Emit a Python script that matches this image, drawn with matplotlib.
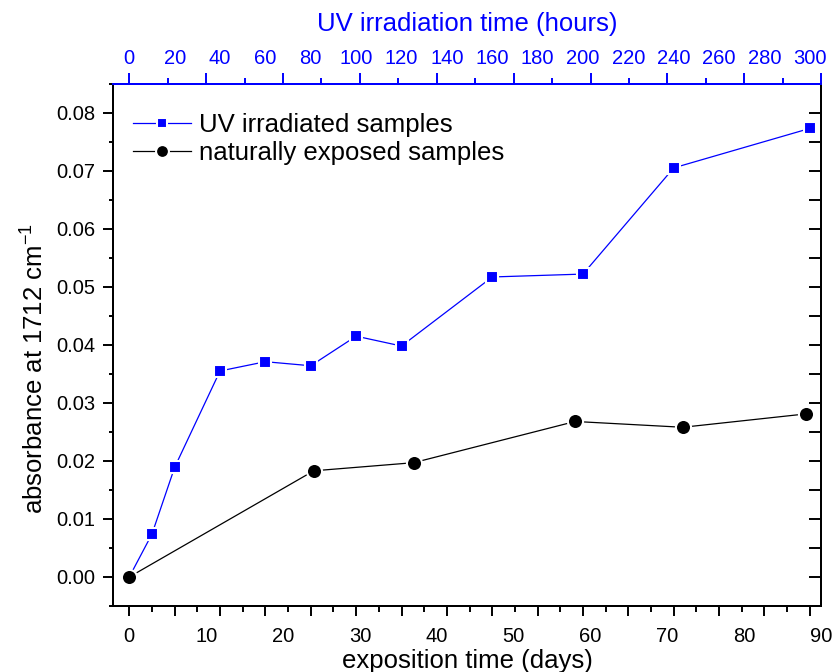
import matplotlib
matplotlib.use("Agg")
import matplotlib.pyplot as plt
from matplotlib.ticker import MultipleLocator

plt.rcParams['font.family'] = ['Liberation Sans', 'DejaVu Sans']
plt.rcParams['mathtext.fontset'] = 'custom'
plt.rcParams['mathtext.rm'] = 'Liberation Sans'

# UV irradiated samples (top axis, hours)
uv_hours = [0, 10, 20, 40, 60, 80, 100, 120, 160, 200, 240, 300]
uv_abs = [0.0, 0.0074, 0.0189, 0.0355, 0.0371, 0.0364, 0.0415, 0.0398,
          0.0517, 0.0522, 0.0705, 0.0773]

# naturally exposed samples (bottom axis, days)
nat_days = [0, 24, 37, 58, 72, 88]
nat_abs = [0.0, 0.0183, 0.0197, 0.0268, 0.0258, 0.0281]

BLUE = '#0000ff'
tick_fs = 14.5
lab_fs = 18.5

fig = plt.figure(figsize=(8.33, 6.72), dpi=100)
ax = fig.add_axes([0.136, 0.0982, 0.8501, 0.7772])
ax2 = ax.twiny()

# hours axis: UV data, labels on top, tick marks at bottom
ax.plot(uv_hours, uv_abs, color=BLUE, lw=0.9, marker='s', ms=9.0,
        mfc=BLUE, mec='white', mew=1.5, label='UV irradiated samples')
ax.set_xlim(-7.05, 305.1)
ax.set_ylim(-0.005, 0.085)
ax.xaxis.set_major_locator(MultipleLocator(20))
ax.xaxis.set_minor_locator(MultipleLocator(10))
ax.tick_params(axis='x', which='both', bottom=True, top=False,
               labelbottom=False, labeltop=True, direction='out',
               color='black', labelcolor=BLUE, width=1.4)
ax.tick_params(axis='x', which='major', length=7.5, pad=4.0, labelsize=tick_fs)
ax.tick_params(axis='x', which='minor', length=4.2)
ax.xaxis.set_label_position('top')
ax.set_xlabel('UV irradiation time (hours)', color=BLUE, fontsize=lab_fs,
              labelpad=13)

ax.yaxis.set_major_locator(MultipleLocator(0.01))
ax.yaxis.set_minor_locator(MultipleLocator(0.005))
ax.yaxis.set_major_formatter(plt.FormatStrFormatter('%.2f'))
ax.tick_params(axis='y', which='both', left=True, right=False,
               direction='out', width=1.4)
ax.tick_params(axis='y', which='major', length=7.2, pad=5.5, labelsize=tick_fs)
ax.tick_params(axis='y', which='minor', length=3.2)
ax.set_ylabel('absorbance at 1712 cm$^{\\mathregular{-1}}$', fontsize=lab_fs)
ax.yaxis.set_label_coords(-0.093, 0.455)

sec = ax.secondary_yaxis('right')
sec.yaxis.set_major_locator(MultipleLocator(0.005))
sec.tick_params(axis='y', direction='in', length=8.4, width=1.4,
                labelright=False)
sec.spines['right'].set_linewidth(1.4)

for s in ax.spines.values():
    s.set_linewidth(1.4)
ax.spines['top'].set_color(BLUE)

# days axis: natural data, tick marks on top, labels at bottom
ax2.plot(nat_days, nat_abs, color='black', lw=0.9, marker='o', ms=10.9,
         mfc='black', mec='white', mew=1.5, label='naturally exposed samples')
ax2.set_xlim(-2.08, 90.03)
ax2.xaxis.set_major_locator(MultipleLocator(10))
ax2.xaxis.set_minor_locator(MultipleLocator(5))
ax2.tick_params(axis='x', which='both', top=True, bottom=False,
                labeltop=False, labelbottom=True, direction='out',
                color=BLUE, labelcolor='black', width=1.4)
ax2.tick_params(axis='x', which='major', length=8.0, pad=7.0, labelsize=tick_fs)
ax2.tick_params(axis='x', which='minor', length=4.3)
ax2.xaxis.set_label_position('bottom')
ax2.set_xlabel('exposition time (days)', fontsize=lab_fs, labelpad=2)
for s in ax2.spines.values():
    s.set_linewidth(1.4)
ax2.spines['top'].set_color(BLUE)

h1, l1 = ax.get_legend_handles_labels()
h2, l2 = ax2.get_legend_handles_labels()
ax2.legend(h1 + h2, l1 + l2, loc='upper left', bbox_to_anchor=(0.028, 0.944),
           borderaxespad=0, borderpad=0, frameon=False, fontsize=lab_fs,
           handlelength=2.26, handletextpad=0.3, labelspacing=0.17,
           markerscale=0.85)

fig.savefig('out.png', dpi=100)
